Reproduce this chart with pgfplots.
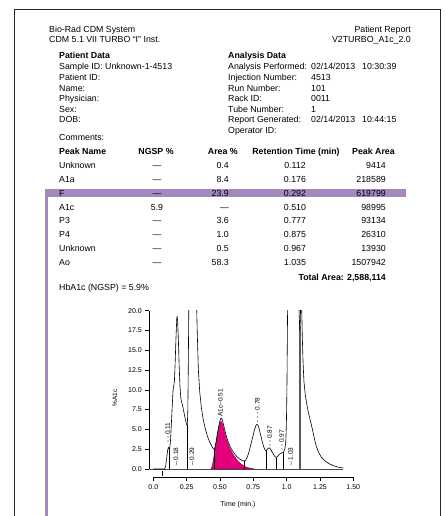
\documentclass[border=0pt]{standalone}
\usepackage{fontspec}
\setmainfont{Liberation Sans}
\usepackage{pgfplots}
\pgfplotsset{compat=1.18}
\definecolor{band}{RGB}{164,137,192}
\definecolor{mag}{RGB}{228,0,124}
\newcommand{\ft}{\fontsize{8.8bp}{10bp}\selectfont}
\newcommand{\pl}{\fontsize{6.5bp}{7bp}\selectfont}
\newcommand{\trow}[6]{%
 \node[anchor=base west] at (59,#1) {#2};
 \node[anchor=base] at (157,#1) {#3};
 \node[anchor=base east] at (229,#1) {#4};
 \node[anchor=base] at (295,#1) {#5};
 \node[anchor=base east] at (386,#1) {#6};}
\begin{document}
\begin{tikzpicture}
\begin{scope}[x=1bp,y=-1bp]
\path[use as bounding box] (0,0) rectangle (446,516);
\fill[band] (45,189.3) rectangle (406,197);
\fill[band] (45,197) rectangle (48,520);
\draw[line width=1bp, black!85] (14,520) -- (14,9.3) -- (440,9.3) -- (440,520);
\begin{scope}[every node/.style={inner sep=0pt, font=\ft}]
\node[anchor=base west] at (49,32.6) {Bio-Rad CDM System};
\node[anchor=base west] at (49,42.6) {CDM 5.1 VII TURBO “I” Inst.};
\node[anchor=base east] at (411,32.6) {Patient Report};
\node[anchor=base east] at (411,42.6) {V2TURBO\_A1c\_2.0};
\node[anchor=base west, font=\ft\bfseries] at (59,59) {Patient Data};
\node[anchor=base west] at (59,70) {Sample ID: Unknown-1-4513};
\node[anchor=base west] at (59,80.6) {Patient ID:};
\node[anchor=base west] at (59,91.3) {Name:};
\node[anchor=base west] at (59,101.8) {Physician:};
\node[anchor=base west] at (59,112.3) {Sex:};
\node[anchor=base west] at (59,122.8) {DOB:};
\node[anchor=base west] at (59,141) {Comments:};
\node[anchor=base west, font=\ft\bfseries] at (228,59) {Analysis Data};
\node[anchor=base west] at (228,70) {Analysis Performed:};
\node[anchor=base west] at (228,80.6) {Injection Number:};
\node[anchor=base west] at (228,91.3) {Run Number:};
\node[anchor=base west] at (228,101.8) {Rack ID:};
\node[anchor=base west] at (228,112.3) {Tube Number:};
\node[anchor=base west] at (228,122.8) {Report Generated:};
\node[anchor=base west] at (228,133.3) {Operator ID:};
\node[anchor=base west] at (311,70) {02/14/2013};
\node[anchor=base west] at (362,70) {10:30:39};
\node[anchor=base west] at (311,80.6) {4513};
\node[anchor=base west] at (311,91.3) {101};
\node[anchor=base west] at (311,101.8) {0011};
\node[anchor=base west] at (311,112.3) {1};
\node[anchor=base west] at (311,122.8) {02/14/2013};
\node[anchor=base west] at (362,122.8) {10:44:15};
% table header
\node[anchor=base west, font=\ft\bfseries] at (59,155) {Peak Name};
\node[anchor=base, font=\ft\bfseries] at (156,155) {NGSP \%};
\node[anchor=base east, font=\ft\bfseries] at (238,155) {Area \%};
\node[anchor=base, font=\ft\bfseries] at (296,155) {Retention Time (min)};
\node[anchor=base west, font=\ft\bfseries] at (352,155) {Peak Area};
\trow{169}{Unknown}{—}{0.4}{0.112}{9414}
\trow{183}{A1a}{—}{8.4}{0.176}{218589}
\trow{196.5}{F}{—}{23.9}{0.292}{619799}
\trow{210.2}{A1c}{5.9}{—}{0.510}{98995}
\trow{223.9}{P3}{—}{3.6}{0.777}{93134}
\trow{237.6}{P4}{—}{1.0}{0.875}{26310}
\trow{251.3}{Unknown}{—}{0.5}{0.967}{13930}
\trow{265}{Ao}{—}{58.3}{1.035}{1507942}
\node[anchor=base east, font=\ft\bfseries] at (386,280.6) {Total Area: 2,588,114};
\node[anchor=base west] at (59,290) {HbA1c (NGSP) = 5.9\%};
\node[rotate=90, font=\fontsize{6.5bp}{7bp}\selectfont] at (115,398) {\%A1c};
\node[font=\fontsize{7bp}{8bp}\selectfont] at (238,505) {Time (min.)};
\end{scope}
\end{scope}
\begin{axis}[
 at={(149.3bp,-476.9bp)}, anchor=south west,
 scale only axis, width=204bp, height=166.3bp,
 xmin=-0.03, xmax=1.5, ymin=-1, ymax=20,
 tick pos=left,
 axis line style={draw=none},
 xtick={0,0.25,0.5,0.75,1,1.25,1.5},
 xticklabels={0.0,0.25,0.50,0.75,1.0,1.25,1.50},
 ytick={0,2.5,5,7.5,10,12.5,15,17.5,20},
 y tick label style={/pgf/number format/.cd,fixed,fixed zerofill,precision=1,/tikz/.cd},
 tick align=outside, major tick length=4bp,
 tick style={black, line width=0.6bp},
 ticklabel style={font=\fontsize{7bp}{8bp}\selectfont},
 /pgf/number format/assume math mode=true,
 clip mode=individual,
 unbounded coords=jump,
]
% baseline
\addplot[black!70, line width=0.7bp] coordinates {(-0.03,0) (1.425,0)};
% injection mark
\addplot[black, line width=0.6bp] coordinates {(0.065,-0.25) (0.065,-0.9)};
% A1c area
\addplot[fill=mag, draw=black!60!mag, line width=0.3bp] coordinates {
(0.432,0) (0.440,0.3) (0.448,0.9) (0.456,1.7) (0.465,2.8) (0.475,3.9) (0.485,4.9) (0.495,5.6) (0.503,5.95) (0.510,6.0) (0.517,5.8) (0.525,5.3) (0.535,4.6) (0.545,3.95) (0.558,3.3) (0.572,2.7) (0.590,2.1) (0.610,1.55) (0.630,1.1) (0.650,0.75) (0.670,0.5) (0.690,0.3) (0.710,0.17) (0.730,0.08) (0.76,0)} -- cycle;
% drop lines
\addplot[black, line width=0.6bp] coordinates {
(0.122,0) (0.122,2.5) (nan,nan)
(0.255,0) (0.255,5.5) (nan,nan)
(0.455,0) (0.455,2.5) (nan,nan)
(0.680,0) (0.680,1.0) (nan,nan)
(0.847,0) (0.847,2.3) (nan,nan)
(0.922,0) (0.922,1.45) (nan,nan)
(0.977,0) (0.977,2.15)};
\addplot[black!65, line width=1.3bp] coordinates {(1.100,0) (1.100,18)};
% trace
\addplot[black, line width=0.6bp, line join=round] coordinates {
(0.000,0.0) (0.085,0.0) (0.092,0.3) (0.100,1.3) (0.107,2.3) (0.113,2.75) (0.118,2.6) (0.122,2.5)
(0.128,3.3) (0.135,5.5) (0.142,8.0) (0.148,9.9) (0.153,10.5) (0.158,11.0) (0.163,13.0) (0.170,16.5)
(0.176,19.0) (0.179,19.3) (0.183,18.5) (0.188,16.3) (0.194,13.0) (0.200,10.5) (0.206,9.0) (0.212,8.5)
(0.220,8.0) (0.228,7.3) (0.236,6.6) (0.244,6.0) (0.250,5.6) (0.255,5.5) (0.259,7.5) (0.263,14)
(0.267,22) (0.272,28) (0.29,35) (0.31,28) (0.323,22) (0.330,17) (0.338,12.5) (0.348,9.8)
(0.360,7.8) (0.375,6.2) (0.390,5.1) (0.405,4.2) (0.420,3.5) (0.435,3.0) (0.448,2.6) (0.455,2.5)
(0.462,2.7) (0.470,3.3) (0.480,4.3) (0.490,5.3) (0.498,6.0) (0.505,6.35) (0.512,6.4) (0.518,6.2)
(0.525,5.7) (0.535,5.0) (0.545,4.3) (0.558,3.6) (0.572,3.0) (0.590,2.4) (0.610,1.9) (0.630,1.5)
(0.650,1.25) (0.668,1.05) (0.680,1.0) (0.692,1.1) (0.705,1.5) (0.718,2.2) (0.730,3.0) (0.745,4.0)
(0.758,4.9) (0.770,5.5) (0.778,5.65) (0.786,5.5) (0.795,5.0) (0.805,4.3) (0.815,3.6) (0.828,2.8)
(0.840,2.35) (0.847,2.3) (0.855,2.5) (0.865,2.65) (0.872,2.65) (0.880,2.5) (0.892,2.1) (0.905,1.75)
(0.915,1.5) (0.922,1.45) (0.932,1.6) (0.945,1.85) (0.958,2.0) (0.968,2.05) (0.977,2.15) (0.986,2.5)
(0.993,3.3) (0.998,5.5) (1.002,10) (1.006,18) (1.010,25) (1.05,40) (1.085,25) (1.093,20)
(1.098,17.5) (1.102,18.5) (1.107,22) (1.112,21) (1.117,17) (1.123,13.5) (1.130,11.0) (1.140,9.3)
(1.150,8.3) (1.162,7.2) (1.175,6.3) (1.185,5.6) (1.192,5.1) (1.200,4.5) (1.210,3.7) (1.222,2.9)
(1.240,2.1) (1.260,1.5) (1.285,1.05) (1.315,0.7) (1.350,0.42) (1.390,0.22) (1.425,0.12)};
% peak labels
\node[rotate=90, anchor=west, inner sep=0pt, font=\pl] at (axis cs:0.108,3.3) {- - 0.11};
\node[rotate=90, anchor=west, inner sep=0pt, font=\pl] at (axis cs:0.170,0.4) {– 0.18};
\node[rotate=90, anchor=west, inner sep=0pt, font=\pl] at (axis cs:0.290,0.4) {– 0.29};
\node[rotate=90, anchor=west, inner sep=0pt, font=\pl] at (axis cs:0.503,6.6) {A1c–0.51};
\node[rotate=90, anchor=west, inner sep=0pt, font=\pl] at (axis cs:0.780,5.9) {- - - 0.78};
\node[rotate=90, anchor=west, inner sep=0pt, font=\pl] at (axis cs:0.872,2.8) {- - 0.87};
\node[rotate=90, anchor=west, inner sep=0pt, font=\pl] at (axis cs:0.962,2.3) {- - 0.97};
\node[rotate=90, anchor=west, inner sep=0pt, font=\pl] at (axis cs:1.030,0.4) {– 1.03};
% R-style axis lines
\draw[line width=0.6bp] (axis cs:0,-1) -- (axis cs:1.5,-1);
\draw[line width=0.6bp] (axis cs:-0.03,0) -- (axis cs:-0.03,20);
\end{axis}
\end{tikzpicture}
\end{document}
